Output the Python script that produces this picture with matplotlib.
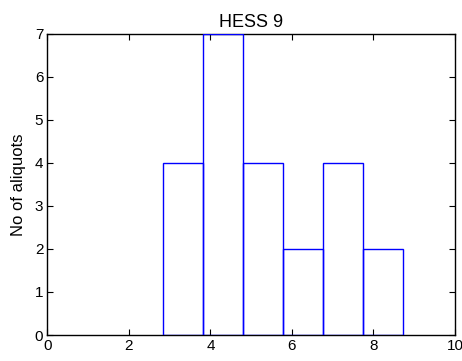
import matplotlib
matplotlib.use("Agg")
import matplotlib.pyplot as plt
import numpy as np

# bin edges and counts
bin_edges = [2.84, 3.82, 4.80, 5.77, 6.76, 7.75, 8.73]
counts = [4, 7, 4, 2, 4, 2]

plt.rcParams['font.family'] = ['Liberation Sans', 'DejaVu Sans']

fig = plt.figure(figsize=(4.62, 3.61), dpi=100)
ax = fig.add_axes([0.1028, 0.072, 0.882, 0.835])

lefts = np.array(bin_edges[:-1])
widths = np.diff(bin_edges)
ax.bar(lefts, counts, width=widths, align='edge', fill=False,
       edgecolor='#0000ff', linewidth=1.0, zorder=3)

ax.set_xlim(0, 10)
ax.set_ylim(0, 7)
ax.set_xticks(range(0, 11, 2))
ax.set_yticks(range(0, 8))
ax.tick_params(direction='in', top=True, right=True, length=4, width=0.8,
               labelsize=11, pad=3)
for s in ax.spines.values():
    s.set_linewidth(1.0)
    s.set_zorder(2)

ax.set_title("HESS 9", fontsize=13, pad=5)
ax.set_ylabel("No of aliquots", fontsize=12, labelpad=6)

fig.savefig("out.png", dpi=100)
